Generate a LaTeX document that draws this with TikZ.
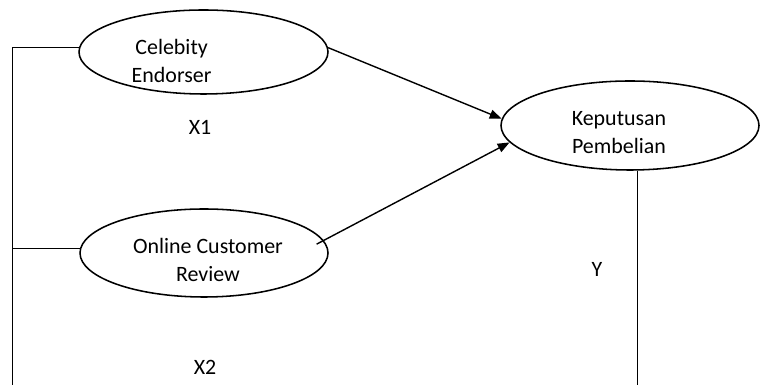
\documentclass[tikz,border=0pt]{standalone}
\usepackage{fontspec}
\setmainfont{Carlito}
\usetikzlibrary{shapes.geometric, arrows.meta, positioning, calc}

\begin{document}
\begin{tikzpicture}[
  varell/.style={draw, ellipse, line width=1.1pt, inner sep=0pt},
  vartxt/.style={font=\fontsize{15.6}{19.9}\selectfont, align=center, inner sep=0pt},
  link/.style={line width=0.7pt},
  arr/.style={line width=1pt, -{Triangle[length=8.5pt, width=6.5pt]}}
]
  \useasboundingbox (0, 0) rectangle (19, 9.625);

  % Variables
  \node[varell, minimum width=6.225cm, minimum height=2.1cm] (cel) at (5.0875, 8.325) {};
  \node[varell, minimum width=6.2cm, minimum height=2.2cm] (ocr) at (5.1, 3.3) {};
  \node[varell, minimum width=6.45cm, minimum height=2.225cm] (kp) at (15.75, 6.4875) {};

  % Names
  \node[vartxt] (celtxt) at (4.29, 8.09) {Celebity\\Endorser};
  \node[vartxt] (ocrtxt) at (5.2, 3.125) {Online Customer\\Review};
  \node[vartxt] (kptxt) at (15.475, 6.3125) {Keputusan\\Pembelian};

  % Codes
  \node[vartxt] (x1) at (5.0, 6.45) {X1};
  \node[vartxt] (x2) at (5.125, 0.45) {X2};
  \node[vartxt] (y) at (14.925, 2.9) {Y};

  % Arrows
  \draw[arr] (cel.2) -- (kp.177);
  \draw[arr, shorten <=-0.2cm] (ocr.6) -- (kp.188);

  % Side lines
  \coordinate (lbot) at (0.3, 0);
  \draw[link] (cel.178) -| (lbot);
  \draw[link] (ocr.178) -- (ocr.178 -| lbot);
  \draw[link] (kp.-80) -- (kp.-80 |- lbot);
\end{tikzpicture}
\end{document}
